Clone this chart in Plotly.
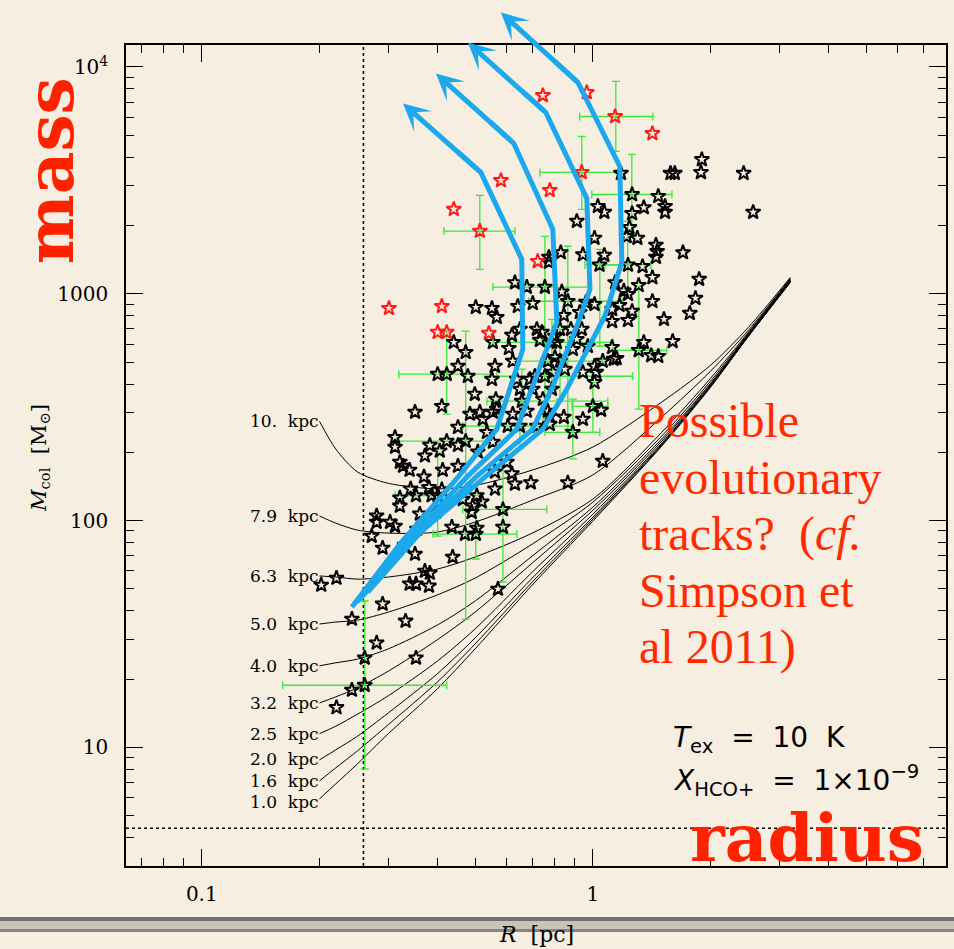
import numpy as np
import plotly.graph_objects as go

# ---------------------------------------------------------------
# Detection-limit curves (column mass vs. radius) for each distance
# ---------------------------------------------------------------
R_GRID = [0.2, 0.22, 0.25, 0.3, 0.4, 0.5, 0.7, 1.0, 1.5, 2.0, 2.5, 3.2]
DIST_LABELS = ["10. kpc", "7.9 kpc", "6.3 kpc", "5.0 kpc", "4.0 kpc",
               "3.2 kpc", "2.5 kpc", "2.0 kpc", "1.6 kpc", "1.0 kpc"]
M_LIM_100 = [274, 207, 164, 146, 138, 143, 167, 211, 333, 484, 712, 1182]
M_LIM_79 = [104.7, 97.5, 90.8, 88.1, 89.0, 98.5, 123, 159, 286, 456, 691, 1170]
M_LIM_63 = [57.0, 56.4, 55.2, 56.4, 61.1, 69.1, 88.1, 124.4, 245, 424, 677, 1159]
M_LIM_50 = [35.0, 35.7, 36.4, 39.5, 47.0, 55.8, 78.8, 120.6, 236, 412, 670, 1147]
M_LIM_40 = [22.9, 23.6, 24.5, 27.2, 34.6, 44.2, 69.8, 114.7, 229, 403, 663, 1147]
M_LIM_32 = [15.7, 16.7, 18.3, 21.7, 29.8, 39.5, 65.0, 111, 224, 399, 663, 1135]
M_LIM_25 = [11.5, 12.4, 14.0, 16.9, 24.0, 33.3, 59.3, 106.8, 219.5, 395, 656, 1135]
M_LIM_20 = [8.81, 9.75, 11.2, 14.2, 21.1, 30.4, 55.8, 103.6, 217, 391, 656, 1135]
M_LIM_16 = [7.12, 8.12, 9.65, 12.6, 19.4, 28.6, 53.6, 101.5, 215, 391, 650, 1124]
M_LIM_10 = [5.93, 6.90, 8.46, 11.5, 18.1, 27.2, 52.0, 99.5, 213, 387, 650, 1124]

# ---------------------------------------------------------------
# Clumps: radius [pc] and column mass [Msun]
# ---------------------------------------------------------------
BLACK_R = [1.90, 1.58, 1.62, 1.89, 2.43, 1.18, 1.26, 1.47, 2.57, 1.03,
           1.07, 1.26, 1.35, 1.53, 1.53, 0.910, 1.24, 1.01, 1.30, 1.22,
           1.45, 1.46, 1.45, 1.70, 0.828, 0.772, 0.772, 0.943, 1.07, 1.23,
           1.34, 1.04, 1.42, 1.87, 0.632, 0.678, 0.754, 0.833, 1.14, 1.20,
           1.31, 1.42, 1.83, 1.77, 1.52, 1.26, 1.23, 1.12, 0.502, 0.552,
           0.643, 0.702, 0.863, 0.843, 0.960, 1.01, 1.12, 1.17, 0.741, 0.621,
           0.555, 0.610, 1.35, 1.60, 1.41, 1.47, 1.13, 1.15, 0.562, 0.552,
           0.690, 0.786, 0.809, 0.926, 1.12, 1.06, 1.01, 1.02, 1.01, 0.943,
           1.05, 0.943, 0.843, 0.767, 0.745, 0.786, 0.790, 0.848, 0.971, 0.910,
           0.732, 0.800, 0.719, 0.651, 0.824, 0.879, 0.937, 0.568, 0.441, 0.473,
           0.452, 0.401, 0.423, 0.479, 0.499, 0.411, 0.485, 0.514, 0.523, 0.565,
           0.568, 0.639, 0.624, 0.711, 0.702, 0.651, 0.658, 0.678, 0.624, 0.776,
           0.719, 0.606, 0.452, 0.767, 0.889, 0.800, 0.351, 0.555, 0.312, 0.312,
           0.383, 0.423, 0.452, 0.406, 0.372, 0.321, 0.327, 0.340, 0.413, 0.452,
           0.508, 0.536, 0.555, 0.370, 0.342, 0.353, 0.381, 0.387, 0.401, 0.411,
           0.321, 0.321, 0.361, 0.397, 0.465, 0.505, 0.562, 0.562, 0.603, 0.621,
           0.632, 0.694, 0.493, 0.520, 0.490, 0.280, 0.280, 0.303, 0.312, 0.272,
           0.290, 0.330, 0.355, 0.436, 0.505, 0.502, 0.471, 0.589, 0.589, 0.438,
           0.351, 0.372, 0.383, 0.340, 0.353, 0.381, 0.221, 0.202, 0.572, 0.290,
           0.242, 0.332, 0.280, 0.261, 0.353, 0.261, 0.242, 0.221, 1.06, 0.863,
           0.889, 0.776, 1.23, 1.31, 0.473, 1.00, 0.824, 0.754, 0.651]
BLACK_M = [3910, 3400, 3400, 3430, 3400, 3400, 2740, 2690, 2290, 2430,
           2290, 2260, 2400, 2430, 2290, 2090, 1960, 1760, 1760, 1790,
           1640, 1540, 1450, 1520, 1520, 1450, 1380, 1490, 1480, 1340,
           1320, 1340, 1180, 1160, 1120, 1070, 1070, 1020, 1120, 1030,
           1090, 927, 956, 821, 772, 838, 764, 756, 872, 863,
           881, 908, 927, 804, 918, 899, 855, 890, 677, 657,
           611, 575, 611, 617, 535, 530, 515, 519, 480, 420,
           420, 611, 611, 829, 581, 505, 480, 451, 407, 451,
           307, 280, 286, 304, 343, 380, 451, 465, 587, 630,
           624, 650, 698, 698, 698, 698, 698, 788, 611, 552,
           480, 442, 442, 433, 361, 319, 295, 301, 280, 343,
           310, 420, 505, 433, 380, 380, 336, 304, 295, 289,
           261, 261, 258, 505, 569, 525, 301, 301, 233, 211,
           215, 224, 215, 203, 193, 181, 174, 167, 167, 174,
           201, 245, 222, 156, 138, 129, 140, 129, 129, 137,
           126, 116, 107, 109, 124, 129, 138, 164, 181, 161,
           145, 147, 116, 121, 109, 105, 98.5, 98.5, 94.5, 85.4,
           75.7, 78.0, 91.7, 93.6, 92.6, 87.2, 87.2, 93.6, 112, 69.1,
           71.2, 59.9, 58.7, 52.6, 52.6, 51.5, 55.8, 52.0, 49.9, 42.9,
           36.8, 36.1, 28.9, 24.8, 24.8, 18.8, 17.9, 15.0, 183, 147,
           245, 266, 995, 563, 224, 319, 505, 433, 261]

RED_R = [0.745, 0.965, 1.14, 1.42, 0.582, 0.776, 0.441, 0.514, 0.937, 0.723,
         0.301, 0.411, 0.401, 0.423, 0.542]
RED_M = [7490, 7720, 6050, 5090, 3160, 2860, 2360, 1890, 3430, 1390,
         863, 881, 677, 677, 670]

# Clumps with measured uncertainties (centre, lower and upper bounds)
ERR_R = [1.145, 0.937, 0.514, 1.258, 0.754, 0.863, 1.228, 1.311, 0.423, 0.473,
         0.401, 0.589, 0.502, 0.261, 1.000, 0.889, 0.786, 0.824, 1.042, 0.754,
         0.658, 0.651]
ERR_M = [6050, 3430, 1890, 2740, 1070, 927, 1340, 563, 442, 224,
         129, 112, 87.2, 18.8, 319, 245, 611, 505, 1340, 433,
         336, 261]
ERR_R_LO = [0.926, 0.732, 0.416, 0.994, 0.555, 0.686, 1.073, 1.125, 0.319, 0.315,
            0.312, 0.465, 0.390, 0.161, 0.884, 0.754, 0.555, 0.651, 0.954, 0.568,
            0.536, 0.465]
ERR_R_HI = [1.424, 1.172, 0.632, 1.593, 0.983, 1.193, 1.407, 1.546, 0.545, 0.536,
            0.514, 0.763, 0.639, 0.423, 1.092, 1.042, 1.125, 1.061, 1.172, 1.265,
            1.092, 0.889]
ERR_M_LO = [4244, 2357, 1282, 1866, 500, 253, 1047, 310, 295, 36.8,
            85.4, 53.6, 67.7, 8.04, 245, 187, 380, 343, 587, 280,
            253, 207]
ERR_M_HI = [8633, 4941, 2716, 4117, 1792, 1620, 2086, 1080, 684, 684,
            207, 187, 112, 44.2, 407, 343, 772, 698, 1570, 630,
            465, 343]

# Sketched evolutionary tracks; the last point of each is the arrow tip
TRACK1_R = [0.242, 0.321, 0.452, 0.568, 0.613, 0.662, 0.658, 0.517, 0.327]
TRACK1_M = [41.6, 78.8, 155.5, 253, 380, 570, 1419, 3430, 6908]
TRACK2_R = [0.249, 0.334, 0.476, 0.639, 0.745, 0.809, 0.790, 0.628, 0.397]
TRACK2_M = [43.7, 80.4, 155.5, 253, 515, 749, 1924, 4603, 9365]
TRACK3_R = [0.2565, 0.3485, 0.502, 0.702, 0.790, 0.910, 0.983, 0.965, 0.758, 0.479]
TRACK3_M = [46.0, 84.5, 155.5, 253, 391, 719, 1047, 2635, 6305, 12820]
TRACK4_R = [0.2657, 0.363, 0.5295, 0.745, 0.858, 0.983, 1.073, 1.186, 1.172,
            0.916, 0.582]
TRACK4_M = [48.4, 89.0, 155.5, 253, 380, 587, 796, 1377, 3646, 8547, 17390]

# Reference limits (beam radius and minimum mass)
R_BEAM = 0.259
M_MIN = 4.4

X_RANGE = (0.064, 8.0)
Y_RANGE = (3.0, 12500.0)
X_TICKS = [0.1, 1]
X_TICKTEXT = ["0.1", "1"]
Y_TICKS = [10, 100, 1000, 10000]
Y_TICKTEXT = ["10", "100", "1000", "10<sup>4</sup>"]

BG = "#f5eee1"
BLUE = "#1ba8ec"
GREEN = "#3ae83a"
RED_TXT = "#ff2a00"
SERIF = "DejaVu Serif"

fig = go.Figure()

# dotted reference lines
fig.add_trace(go.Scatter(x=[R_BEAM, R_BEAM], y=list(Y_RANGE), mode="lines",
                         line=dict(color="black", width=1.5, dash="dot"),
                         hoverinfo="skip", showlegend=False))
fig.add_trace(go.Scatter(x=list(X_RANGE), y=[M_MIN, M_MIN], mode="lines",
                         line=dict(color="black", width=1.5, dash="dot"),
                         hoverinfo="skip", showlegend=False))

limit_curves = [M_LIM_100, M_LIM_79, M_LIM_63, M_LIM_50, M_LIM_40,
                M_LIM_32, M_LIM_25, M_LIM_20, M_LIM_16, M_LIM_10]
for curve in limit_curves:
    fig.add_trace(go.Scatter(x=R_GRID, y=curve, mode="lines",
                             line=dict(color="black", width=1, shape="spline",
                                       smoothing=0.8),
                             hoverinfo="skip", showlegend=False))

# uncertainties
err_r = np.array(ERR_R)
err_m = np.array(ERR_M)
fig.add_trace(go.Scatter(
    x=ERR_R, y=ERR_M, mode="markers",
    marker=dict(size=1, color="rgba(0,0,0,0)"),
    error_x=dict(type="data", symmetric=False,
                 array=np.array(ERR_R_HI) - err_r,
                 arrayminus=err_r - np.array(ERR_R_LO),
                 color=GREEN, thickness=1.3, width=4),
    error_y=dict(type="data", symmetric=False,
                 array=np.array(ERR_M_HI) - err_m,
                 arrayminus=err_m - np.array(ERR_M_LO),
                 color=GREEN, thickness=1.3, width=4),
    hoverinfo="skip", showlegend=False))

star = dict(symbol="star-open", size=11)
fig.add_trace(go.Scatter(x=BLACK_R, y=BLACK_M, mode="markers",
                         marker=dict(**star, color="black",
                                     line=dict(width=2, color="black")),
                         showlegend=False))
fig.add_trace(go.Scatter(x=RED_R, y=RED_M, mode="markers",
                         marker=dict(**star, color="#ff1a1a",
                                     line=dict(width=2, color="#ff1a1a")),
                         showlegend=False))

annotations = []

# evolutionary tracks: path up to the last bend, then an arrow to the tip
tracks = [(TRACK1_R, TRACK1_M), (TRACK2_R, TRACK2_M),
          (TRACK3_R, TRACK3_M), (TRACK4_R, TRACK4_M)]
for tr_r, tr_m in tracks:
    lr, lm = np.log10(tr_r), np.log10(tr_m)
    # carry the line a little way into the last leg so it joins the arrow
    join_r = 10 ** (lr[-2] + 0.3 * (lr[-1] - lr[-2]))
    join_m = 10 ** (lm[-2] + 0.3 * (lm[-1] - lm[-2]))
    fig.add_trace(go.Scatter(
        x=list(tr_r[:-1]) + [join_r], y=list(tr_m[:-1]) + [join_m],
        mode="lines", line=dict(color=BLUE, width=5),
        hoverinfo="skip", showlegend=False))
    annotations.append(dict(
        x=lr[-1], y=lm[-1], xref="x", yref="y",
        ax=lr[-2], ay=lm[-2], axref="x", ayref="y",
        text="", showarrow=True, arrowhead=3, arrowsize=0.9, arrowwidth=5,
        arrowcolor=BLUE, standoff=0, startstandoff=0))

# distance labels at the start of each limit curve (nearest one sits a
# little lower so the two bottom labels keep apart)
label_shift = [0, 0, 0, 0, 0, 0, 0, 1, 0, -3]
for label, curve, dy in zip(DIST_LABELS, limit_curves, label_shift):
    annotations.append(dict(
        x=np.log10(R_GRID[0]), y=np.log10(curve[0]), xref="x", yref="y",
        text=label.replace(" ", "\u00a0 "), showarrow=False,
        xanchor="right", yanchor="middle", xshift=1, yshift=dy,
        font=dict(family=SERIF, size=17, color="black")))

# axis titles
annotations.append(dict(
    x=0.5, y=-0.0840, xref="paper", yref="paper",
    text="<i>R</i>\u00a0 [pc]", showarrow=False, xanchor="center",
    yanchor="middle", font=dict(family=SERIF, size=22, color="black")))
annotations.append(dict(
    x=-0.1049, y=0.497, xref="paper", yref="paper", textangle=-90,
    text="<i>M</i><sub>col</sub>\u00a0 [M<sub>\u2299</sub>]", showarrow=False,
    xanchor="center", yanchor="middle",
    font=dict(family=SERIF, size=21, color="black")))

# big red callouts
annotations.append(dict(
    x=-0.0927, y=0.8475, xref="paper", yref="paper", textangle=-90,
    text="<b>mass</b>", showarrow=False, xanchor="center", yanchor="middle",
    font=dict(family=SERIF, size=66, color="#ff2200")))
annotations.append(dict(
    x=0.9756, y=0.0345, xref="paper", yref="paper",
    text="<b>radius</b>", showarrow=False, xanchor="right", yanchor="middle",
    font=dict(family=SERIF, size=66, color="#ff2200")))

note_lines = ["Possible", "evolutionary", "tracks?\u00a0 (<i>cf.</i>",
              "Simpson et", "al 2011)"]
note_y = [0.5423, 0.4734, 0.4046, 0.3358, 0.2670]
for line, yy in zip(note_lines, note_y):
    annotations.append(dict(
        x=0.623, y=yy, xref="paper", yref="paper", text=line,
        showarrow=False, xanchor="left", yanchor="middle",
        font=dict(family="Liberation Serif", size=48, color=RED_TXT)))

# model parameters
annotations.append(dict(
    x=0.665, y=0.154, xref="paper", yref="paper",
    text="<i>T</i><sub>ex</sub>\u00a0\u00a0=\u00a0\u00a010\u00a0\u00a0K",
    showarrow=False, xanchor="left", yanchor="middle",
    font=dict(family="DejaVu Sans", size=28, color="black")))
annotations.append(dict(
    x=0.665, y=0.1045, xref="paper", yref="paper",
    text="<i>X</i><sub>HCO+</sub>\u00a0\u00a0=\u00a0\u00a01\u00d710<sup>\u22129</sup>",
    showarrow=False, xanchor="left", yanchor="middle",
    font=dict(family="DejaVu Sans", size=28, color="black")))

# slide divider band under the plot
shapes = [
    dict(type="rect", xref="paper", yref="paper", x0=-0.16, x1=1.02,
         y0=-0.0670, y1=-0.0621, line=dict(width=0), fillcolor="#707070",
         layer="below"),
    dict(type="rect", xref="paper", yref="paper", x0=-0.16, x1=1.02,
         y0=-0.0767, y1=-0.0670, line=dict(width=0), fillcolor="#c9c4ba",
         layer="below"),
    dict(type="rect", xref="paper", yref="paper", x0=-0.16, x1=1.02,
         y0=-0.0804, y1=-0.0767, line=dict(width=0), fillcolor="#858585",
         layer="below"),
]

x_minor = [m * d for d in (0.01, 0.1, 1) for m in range(2, 10)
           if X_RANGE[0] < m * d < X_RANGE[1]]
y_minor = [m * d for d in (1, 10, 100, 1000) for m in range(2, 10)
           if Y_RANGE[0] < m * d < Y_RANGE[1]]

axis_common = dict(
    type="log", showgrid=False, zeroline=False, showline=True,
    linecolor="black", linewidth=1.5, mirror="ticks", ticks="inside",
    ticklen=17, tickwidth=1.4, tickcolor="black",
    tickfont=dict(family=SERIF, size=20, color="black"),
    automargin=False, fixedrange=True,
)

fig.update_layout(
    width=954, height=949, autosize=False,
    margin=dict(l=126, r=8, t=45, b=83),
    paper_bgcolor=BG, plot_bgcolor=BG,
    showlegend=False,
    xaxis=dict(**axis_common,
               range=[np.log10(X_RANGE[0]), np.log10(X_RANGE[1])],
               tickmode="array", tickvals=X_TICKS, ticktext=X_TICKTEXT,
               ticklabelstandoff=9,
               minor=dict(tickmode="array", tickvals=x_minor, ticks="inside",
                          ticklen=8, tickwidth=1.2, tickcolor="black",
                          showgrid=False)),
    yaxis=dict(**axis_common,
               range=[np.log10(Y_RANGE[0]), np.log10(Y_RANGE[1])],
               tickmode="array", tickvals=Y_TICKS, ticktext=Y_TICKTEXT,
               ticklabelstandoff=12,
               minor=dict(tickmode="array", tickvals=y_minor, ticks="inside",
                          ticklen=8, tickwidth=1.2, tickcolor="black",
                          showgrid=False)),
    annotations=annotations,
    shapes=shapes,
)

fig.write_html("out.html", config={"displayModeBar": False})
